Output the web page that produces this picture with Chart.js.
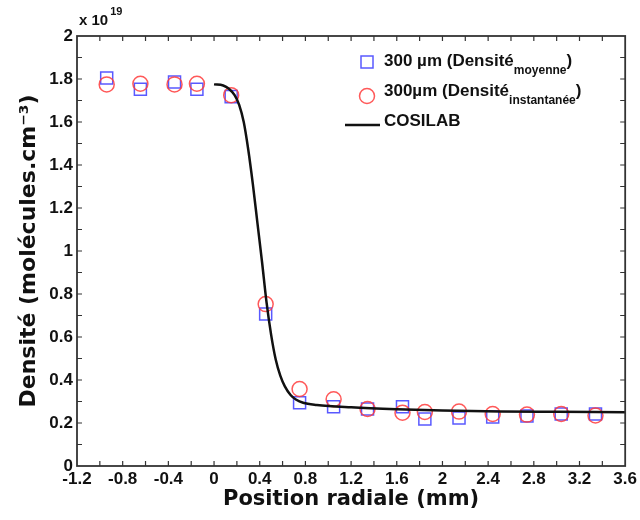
<!DOCTYPE html>
<html lang="fr">
<head>
  <meta charset="UTF-8">
  <title>Densité - position radiale</title>
  <script src="https://cdn.jsdelivr.net/npm/chart.js@4.4.3/dist/chart.umd.min.js"></script>
  <style>
    body { margin: 0; background: #fff; }
    #chart { display: block; }
  </style>
</head>
<body>
  <canvas id="chart" width="640" height="520"></canvas>

  <script>
    // positions radiales des mesures (mm)
    const positions = [-0.94, -0.645, -0.346, -0.15, 0.15, 0.452, 0.749, 1.047, 1.344, 1.65, 1.846, 2.145, 2.44, 2.74, 3.04, 3.34];
    // densité moyenne (x 10^19 molécules.cm-3)
    const densiteMoyenne = [1.805, 1.752, 1.786, 1.752, 1.718, 0.707, 0.294, 0.276, 0.265, 0.276, 0.219, 0.223, 0.228, 0.233, 0.242, 0.242];
    // densité instantanée
    const densiteInstant = [1.775, 1.778, 1.775, 1.778, 1.725, 0.753, 0.358, 0.31, 0.265, 0.248, 0.251, 0.253, 0.242, 0.239, 0.242, 0.235];
    // courbe COSILAB
    const cosilabX = [0.0, 0.08, 0.13, 0.18, 0.22, 0.26, 0.30, 0.34, 0.38, 0.42, 0.46, 0.50, 0.54, 0.58, 0.62, 0.67, 0.72, 0.78, 0.9, 1.2, 1.6, 2.0, 2.5, 3.0, 3.6];
    const cosilabY = [1.775, 1.77, 1.755, 1.725, 1.68, 1.60, 1.47, 1.31, 1.13, 0.95, 0.76, 0.61, 0.495, 0.42, 0.37, 0.33, 0.308, 0.294, 0.284, 0.273, 0.264, 0.258, 0.254, 0.252, 0.25];

    const xTicks = [-1.2, -0.8, -0.4, 0, 0.4, 0.8, 1.2, 1.6, 2, 2.4, 2.8, 3.2, 3.6];
    const yTicks = [0, 0.2, 0.4, 0.6, 0.8, 1, 1.2, 1.4, 1.6, 1.8, 2];

    const blue = 'rgba(60,60,255,0.85)';
    const red = 'rgba(255,60,60,0.85)';
    const tickFont = { family: '"Liberation Sans", Arial, sans-serif', size: 17, weight: 'bold' };

    const fmt = v => String(Number(v.toFixed(1)));

    // cadre + graduations vers l'intérieur sur les 4 côtés
    const framePlugin = {
      id: 'frame',
      afterDatasetsDraw(chart) {
        const { ctx, chartArea: a, scales } = chart;
        ctx.save();
        ctx.strokeStyle = '#333';
        ctx.lineWidth = 1.2;
        for (let i = 1; i < 24; i++) {
          const px = scales.x.getPixelForValue(-1.2 + i * 0.2);
          ctx.beginPath();
          ctx.moveTo(px, a.bottom); ctx.lineTo(px, a.bottom - 5);
          ctx.moveTo(px, a.top); ctx.lineTo(px, a.top + 5);
          ctx.stroke();
        }
        for (let i = 1; i < 20; i++) {
          const py = scales.y.getPixelForValue(i / 10);
          ctx.beginPath();
          ctx.moveTo(a.left, py); ctx.lineTo(a.left + 5, py);
          ctx.moveTo(a.right, py); ctx.lineTo(a.right - 5, py);
          ctx.stroke();
        }
        ctx.lineWidth = 1.8;
        ctx.strokeRect(a.left, a.top, a.right - a.left, a.bottom - a.top);
        ctx.restore();
      }
    };

    // légende avec indices + multiplicateur x 10^19
    const legendPlugin = {
      id: 'customLegend',
      afterDraw(chart) {
        const { ctx, chartArea: a } = chart;
        const x0 = a.left + 290;
        const y0 = a.top;
        ctx.save();
        ctx.textBaseline = 'alphabetic';
        ctx.textAlign = 'left';
        ctx.fillStyle = '#111';

        // x 10^19
        ctx.font = 'bold 15px "Liberation Sans", Arial, sans-serif';
        ctx.fillText('x 10', a.left + 2, 25);
        const w10 = ctx.measureText('x 10').width;
        ctx.font = 'bold 11px "Liberation Sans", Arial, sans-serif';
        ctx.fillText('19', a.left + 4 + w10, 15);

        const main = 'bold 17px "Liberation Sans", Arial, sans-serif';
        const sub = 'bold 12px "Liberation Sans", Arial, sans-serif';
        const rows = [
          { text: '300 \u00b5m (Densit\u00e9', sub: 'moyenne', y: y0 + 30 },
          { text: '300\u00b5m (Densit\u00e9', sub: 'instantan\u00e9e', y: y0 + 60 }
        ];
        rows.forEach(r => {
          ctx.font = main;
          ctx.fillText(r.text, x0 + 17, r.y);
          let w = ctx.measureText(r.text).width;
          ctx.font = sub;
          ctx.fillText(r.sub, x0 + 17 + w, r.y + 8);
          w += ctx.measureText(r.sub).width;
          ctx.font = main;
          ctx.fillText(')', x0 + 17 + w, r.y);
        });
        ctx.fillText('COSILAB', x0 + 17, y0 + 90);

        // marqueurs
        ctx.lineWidth = 1.5;
        ctx.strokeStyle = blue;
        ctx.strokeRect(x0 - 6, y0 + 20, 12, 12);
        ctx.strokeStyle = red;
        ctx.beginPath();
        ctx.arc(x0, y0 + 60, 7.5, 0, Math.PI * 2);
        ctx.stroke();
        ctx.strokeStyle = '#111';
        ctx.lineWidth = 2.5;
        ctx.beginPath();
        ctx.moveTo(x0 - 22, y0 + 89);
        ctx.lineTo(x0 + 13, y0 + 89);
        ctx.stroke();
        ctx.restore();
      }
    };

    new Chart(document.getElementById('chart'), {
      type: 'scatter',
      data: {
        datasets: [
          {
            label: 'COSILAB',
            type: 'line',
            data: cosilabX.map((x, i) => ({ x, y: cosilabY[i] })),
            borderColor: '#111',
            borderWidth: 2.5,
            pointRadius: 0,
            cubicInterpolationMode: 'monotone',
            fill: false,
            order: 0
          },
          {
            label: '300 µm (Densité moyenne)',
            data: positions.map((x, i) => ({ x, y: densiteMoyenne[i] })),
            pointStyle: 'rect',
            pointRadius: 8.5,
            borderColor: blue,
            backgroundColor: 'rgba(0,0,0,0)',
            borderWidth: 1.5,
            order: 2
          },
          {
            label: '300µm (Densité instantanée)',
            data: positions.map((x, i) => ({ x, y: densiteInstant[i] })),
            pointStyle: 'circle',
            pointRadius: 7.5,
            borderColor: red,
            backgroundColor: 'rgba(0,0,0,0)',
            borderWidth: 1.5,
            order: 1
          }
        ]
      },
      options: {
        responsive: false,
        animation: false,
        layout: { padding: { left: 0, right: 12, top: 36, bottom: 0 } },
        plugins: { legend: { display: false }, tooltip: { enabled: false } },
        scales: {
          x: {
            type: 'linear',
            min: -1.2,
            max: 3.6,
            afterBuildTicks: s => { s.ticks = xTicks.map(v => ({ value: v })); },
            afterFit: s => { s.height = 54; },
            grid: { display: false, drawTicks: false },
            border: { display: false },
            ticks: { color: '#111', font: tickFont, padding: 3, maxRotation: 0, autoSkip: false, callback: fmt },
            title: {
              display: true,
              text: 'Position radiale (mm)',
              color: '#111',
              font: { family: '"DejaVu Sans", sans-serif', size: 21, weight: 'bold' },
              padding: { top: 0, bottom: 8 }
            }
          },
          y: {
            min: 0,
            max: 2,
            afterBuildTicks: s => { s.ticks = yTicks.map(v => ({ value: v })); },
            afterFit: s => { s.width = 77; },
            grid: { display: false, drawTicks: false },
            border: { display: false },
            ticks: { color: '#111', font: tickFont, padding: 4, autoSkip: false, callback: fmt },
            title: {
              display: true,
              text: 'Densit\u00e9 (mol\u00e9cules.cm\u207b\u00b3)',
              color: '#111',
              font: { family: '"DejaVu Sans", sans-serif', size: 22, weight: 'bold' },
              padding: { top: 16, bottom: 0 }
            }
          }
        }
      },
      plugins: [framePlugin, legendPlugin]
    });
  </script>
</body>
</html>
